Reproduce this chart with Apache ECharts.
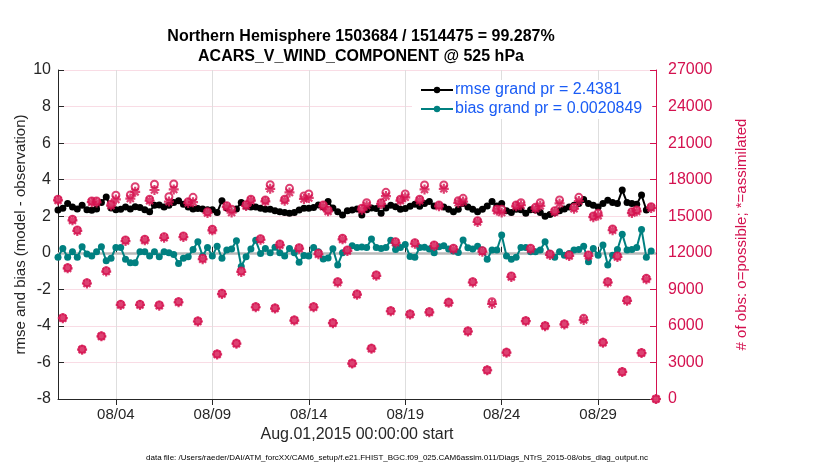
<!DOCTYPE html>
<html>
<head>
<meta charset="utf-8">
<script src="https://cdn.jsdelivr.net/npm/echarts@6/dist/echarts.min.js"></script>
<style>
  html, body { margin: 0; padding: 0; background: #fff; }
  #chart { width: 830px; height: 470px; }
</style>
</head>
<body>
<div id="chart"></div>
<script type="text/javascript">
// 6-hourly bins from 2015-08-01 00Z to 2015-09-01 00Z
var categories = [];
for (var i = 0; i < 125; i++) {
    var d = new Date(Date.UTC(2015, 7, 1) + i * 6 * 3600 * 1000);
    var mm = d.getUTCMonth() + 1, dd = d.getUTCDate(), hh = d.getUTCHours();
    categories.push((mm < 10 ? '0' + mm : mm) + '/' + (dd < 10 ? '0' + dd : dd) + ' ' + (hh < 10 ? '0' + hh : hh) + 'Z');
}
// bins where the date ticks go (08/04, 08/09, ... 08/29)
var tickIdx = [12, 32, 52, 72, 92, 112];

var rmse = [
    2.34, 2.43, 2.7, 2.5, 2.4, 2.6, 2.35, 2.33, 2.4, 2.75,
    3.05, 2.45, 2.35, 2.38, 2.5, 2.4, 2.52, 2.48, 2.35, 2.25,
    2.6, 2.62, 2.5, 2.6, 2.75, 2.85, 2.65, 2.5, 2.4, 2.42,
    2.4, 2.35, 2.35, 2.2, 2.85, 2.45, 2.35, 2.4, 2.75, 2.55,
    2.5, 2.5, 2.43, 2.38, 2.38, 2.3, 2.25, 2.2, 2.16, 2.2,
    2.34, 2.43, 2.43, 2.48, 2.61, 2.5, 2.8, 2.45, 2.25, 2.07,
    2.3, 2.34, 2.4, 2.07, 2.35, 2.45, 2.42, 2.16, 2.45, 2.6,
    2.52, 2.38, 2.42, 2.55, 2.65, 2.55, 2.7, 2.8, 2.56, 2.6,
    2.5, 2.38, 2.25, 2.38, 2.7, 2.5, 2.38, 2.25, 2.38, 2.56,
    2.8, 2.56, 2.7, 2.3, 2.2, 2.38, 2.35, 2.16, 2.35, 2.34,
    2.2, 2.0, 2.1, 2.2, 2.3, 2.4, 2.5, 2.6, 2.7, 2.92,
    2.7, 2.6, 2.5, 2.7, 2.88, 2.75, 2.7, 3.43, 2.75, 2.7,
    2.65, 3.16, 2.34, 2.5, null
];
var bias = [
    -0.25, 0.24, -0.25, 0.05, -0.25, 0.33, -0.07, -0.18, 0.05, 0.33,
    -0.44, -0.3, 0.29, 0.29, -0.36, -0.55, -0.55, 0.05, 0.05, -0.18,
    0.05, -0.22, 0.05, 0, -0.1, -0.58, -0.3, -0.22, 0.18, 0.6,
    -0.18, 0.29, -0.18, 0.36, -0.3, 0.15, 0.2, 0.66, -0.75, -0.22,
    0.2, 0.68, -0.04, 0.24, 0, 0.3, 0, -0.18, 0.24, 0,
    -0.52, -0.15, -0.18, 0.29, 0.05, -0.34, -0.28, 0.22, -0.67, 0,
    0.12, 0.38, 0.29, 0.31, 0.29, 0.75, 0.29, 0.24, 0.29, 0.69,
    0.18, 0.29, 0.45, -0.2, -0.25, 0.29, 0.3, 0.2, 0.0, 0.33,
    0.38, 0.2, 0.1, 0.02, 0.7, 0.28, 0.2, 0.36, 0.15, -0.36,
    0.15, 0.15, 0.97, -0.18, -0.36, -0.25, 0.29, 0.29, 0.05, 0.05,
    0.15, 0.6, -0.04, -0.25, 0.05, -0.13, -0.04, 0.15, 0.18, 0.36,
    -0.49, 0.24, -0.13, 0.42, -0.67, -0.13, 0.18, 1.02, 0.15, 0.18,
    0.29, 1.28, -0.25, 0.1, null
];
var possible = [
    16390, 6670, 10780, 14750, 13870, 4080, 9545, 16250, 16250, 5170,
    10530, 15980, 16720, 7770, 13050, 16740, 17420, 7770, 13110, 16390,
    17620, 7710, 13320, 16600, 17640, 7990, 13380, 16190, 16550, 6400,
    11550, 15370, 13930, 3690, 8670, 15860, 15570, 4570, 10500, 15950,
    16390, 7580, 13160, 16330, 17590, 7470, 12720, 16390, 17290, 6480,
    12420, 16660, 16820, 7580, 11960, 15920, 15510, 6260, 9630, 13190,
    12230, 2930, 8620, 15650, 16110, 4160, 10180, 16110, 16960, 7250,
    12910, 16390, 16820, 6980, 12830, 16390, 17560, 7160, 12640, 15920,
    17560, 7940, 12370, 16270, 16470, 5580, 9630, 14630, 12170, 2380,
    7990, 15570, 15570, 3830, 10090, 15920, 16110, 6430, 12370, 15730,
    16110, 6020, 11900, 15450, 16330, 6160, 11820, 15730, 16550, 6620,
    11820, 15020, 15240, 4650, 9630, 13950, 11740, 2240, 8120, 15370,
    15510, 3800, 9900, 15780, 0
];
var assimilated = [
    16300, 6630, 10720, 14660, 13790, 4050, 9480, 16150, 16130, 5140,
    10460, 15870, 16380, 7720, 12960, 16450, 17000, 7720, 13020, 16270,
    17150, 7660, 13230, 16200, 17200, 7940, 13290, 16080, 16150, 6360,
    11470, 15260, 13840, 3660, 8610, 15750, 15300, 4540, 10430, 15840,
    16280, 7530, 13070, 16220, 17250, 7420, 12630, 16280, 16950, 6440,
    12340, 16420, 16500, 7530, 11880, 15810, 15400, 6220, 9560, 13100,
    12150, 2910, 8560, 15540, 15880, 4130, 10110, 16000, 16650, 7200,
    12820, 16280, 16550, 6930, 12740, 16280, 17200, 7110, 12550, 15810,
    17250, 7890, 12290, 16100, 16200, 5540, 9560, 14530, 12090, 2360,
    7800, 15460, 15300, 3800, 10020, 15810, 15900, 6390, 12290, 15620,
    15850, 5980, 11820, 15340, 16050, 6120, 11740, 15620, 16250, 6480,
    11740, 14920, 15050, 4620, 9560, 13850, 11660, 2220, 8060, 15260,
    15400, 3770, 9830, 15670, 0
];

var leftTicks = { min: -8, max: 10, interval: 2 };
var rightTicks = { min: 0, max: 27000, interval: 3000 };

var FONT = 'Liberation Sans, Arial, Helvetica, sans-serif';
var PINK = '#d4114f';
var TEAL = '#008080';
var isTick = function (idx) { return tickIdx.indexOf(idx) >= 0; };
var asterisk = 'path://M5,0L5,10M0,5L10,5M1.5,1.5L8.5,8.5M1.5,8.5L8.5,1.5';

var myChart = echarts.init(document.getElementById('chart'));

var option = {
    animation: false,
    backgroundColor: '#fff',
    textStyle: { fontFamily: FONT },
    title: {
        text: 'Northern Hemisphere 1503684 / 1514475 = 99.287%\nACARS_V_WIND_COMPONENT @ 525 hPa',
        left: 356,
        top: 22,
        textAlign: 'center',
        textStyle: { fontFamily: FONT, fontSize: 16, fontWeight: 'bold', color: '#000', lineHeight: 20 }
    },
    legend: {
        data: ['rmse grand pr = 2.4381', 'bias grand pr = 0.0020849'],
        orient: 'vertical',
        left: 412,
        top: 80,
        itemWidth: 32,
        itemHeight: 8,
        itemGap: 3,
        padding: [2, 10, 2, 8],
        backgroundColor: '#fff',
        textStyle: { fontFamily: FONT, fontSize: 16, color: '#1a5cf5', padding: [0, 0, 0, -3] }
    },
    grid: { left: 58, right: 174, top: 70, bottom: 71, containLabel: false },
    xAxis: [{
        type: 'category',
        data: categories,
        boundaryGap: false,
        name: 'Aug.01,2015 00:00:00 start',
        nameLocation: 'middle',
        nameGap: 28,
        nameTextStyle: { fontFamily: FONT, fontSize: 16, color: '#262626' },
        axisLine: { lineStyle: { color: '#262626', width: 1 } },
        axisTick: { inside: true, length: 6, interval: isTick, lineStyle: { color: '#262626' } },
        axisLabel: {
            interval: isTick, margin: 8, fontSize: 15, color: '#262626', fontFamily: FONT,
            formatter: function (v) { return v.slice(0, 5); }
        },
        splitLine: { show: true, interval: isTick, lineStyle: { color: '#dedede', width: 1 } }
    }, {
        type: 'category',
        data: categories,
        boundaryGap: false,
        position: 'top',
        axisLine: { lineStyle: { color: '#262626', width: 1 } },
        axisTick: { inside: true, length: 6, interval: isTick, lineStyle: { color: '#262626' } },
        axisLabel: { show: false },
        splitLine: { show: false }
    }],
    yAxis: [{
        type: 'value',
        min: leftTicks.min,
        max: leftTicks.max,
        interval: leftTicks.interval,
        name: 'rmse and bias (model - observation)',
        nameLocation: 'middle',
        nameRotate: 90,
        nameGap: 30,
        nameMoveOverlap: false,
        nameTextStyle: { fontFamily: FONT, fontSize: 15, color: '#262626' },
        axisLine: { show: true, lineStyle: { color: '#262626', width: 1 } },
        axisTick: { show: true, inside: true, length: 6, lineStyle: { color: '#262626' } },
        axisLabel: { margin: 7, fontSize: 16, color: '#262626', fontFamily: FONT },
        splitLine: { show: false }
    }, {
        type: 'value',
        position: 'right',
        min: rightTicks.min,
        max: rightTicks.max,
        interval: rightTicks.interval,
        name: '# of obs: o=possible; *=assimilated',
        nameLocation: 'middle',
        nameRotate: 90,
        nameGap: 78,
        nameTextStyle: { fontFamily: FONT, fontSize: 15, color: PINK },
        axisLine: { show: true, lineStyle: { color: PINK, width: 1 } },
        axisTick: { show: true, inside: true, length: 6, lineStyle: { color: PINK } },
        axisLabel: {
            margin: 12, fontSize: 16, color: PINK, fontFamily: FONT,
            formatter: function (v) { return String(v); }
        },
        splitLine: { show: true, lineStyle: { color: 'rgba(212,17,79,0.15)', width: 1 } }
    }],
    graphic: [{
        type: 'text',
        x: 397,
        y: 454,
        style: {
            text: 'data file: /Users/raeder/DAI/ATM_forcXX/CAM6_setup/f.e21.FHIST_BGC.f09_025.CAM6assim.011/Diags_NTrS_2015-08/obs_diag_output.nc',
            fontFamily: FONT,
            fontSize: 8,
            fill: '#000',
            align: 'center'
        }
    }],
    series: [{
        name: 'rmse grand pr = 2.4381',
        type: 'line',
        data: rmse,
        symbol: 'circle',
        symbolSize: 7,
        showAllSymbol: true,
        color: '#000',
        lineStyle: { color: '#000', width: 2 },
        itemStyle: { color: '#000' },
        z: 3,
        markLine: {
            silent: true,
            symbol: 'none',
            label: { show: false },
            lineStyle: { color: '#b9b9b9', width: 2.5, type: 'solid' },
            data: [{ yAxis: 0 }],
            z: 1
        }
    }, {
        name: 'bias grand pr = 0.0020849',
        type: 'line',
        data: bias,
        symbol: 'circle',
        symbolSize: 7,
        showAllSymbol: true,
        color: TEAL,
        lineStyle: { color: TEAL, width: 2 },
        itemStyle: { color: TEAL },
        z: 3
    }, {
        name: 'possible',
        type: 'scatter',
        yAxisIndex: 1,
        data: possible,
        symbol: 'emptyCircle',
        symbolSize: 7,
        itemStyle: { color: PINK, borderColor: PINK, borderWidth: 1.5 },
        z: 4
    }, {
        name: 'assimilated',
        type: 'scatter',
        yAxisIndex: 1,
        data: assimilated,
        symbol: asterisk,
        symbolSize: 10,
        itemStyle: { color: 'rgba(0,0,0,0)', borderColor: PINK, borderWidth: 2.2 },
        z: 5
    }]
};

myChart.setOption(option);
</script>
</body>
</html>
